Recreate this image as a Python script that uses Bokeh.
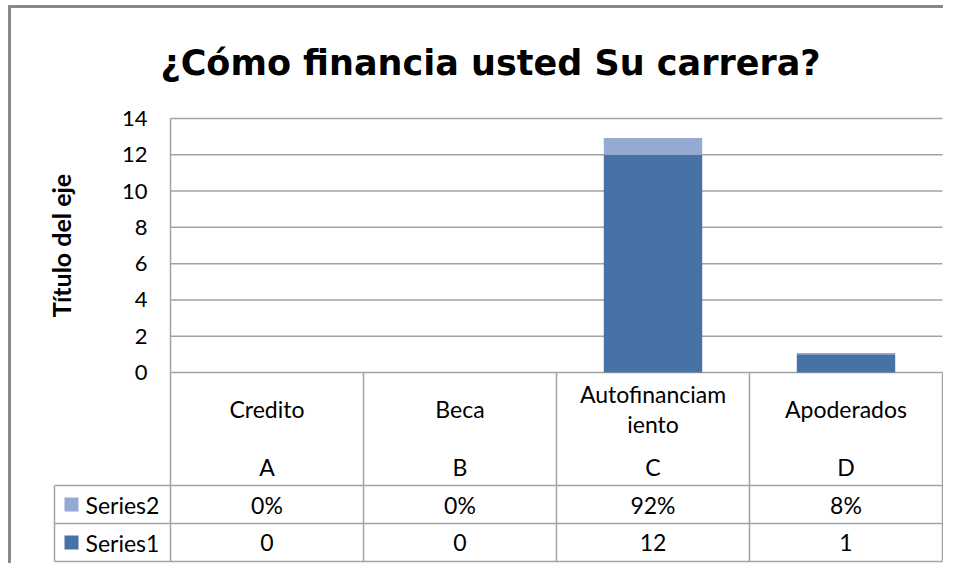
import textwrap
from bokeh.plotting import figure
from bokeh.models import Range1d, FixedTicker, ColumnDataSource
from bokeh.core.properties import value
from bokeh.embed import file_html
from bokeh.resources import INLINE

# ---------------- data ----------------
title_text = "¿Cómo financia usted Su carrera?"
y_axis_title = "Título del eje"
categories = ["Credito", "Beca", "Autofinanciamiento", "Apoderados"]
letters = ["A", "B", "C", "D"]
series1_name = "Series1"
series2_name = "Series2"
series1 = [0, 0, 12, 1]
series2_pct = [0, 0, 92, 8]
y_ticks = [0, 2, 4, 6, 8, 10, 12, 14]

# ---------------- styles / layout ----------------
C1 = "#4672A6"
C2 = "#95AAD2"
GRID = "#a3a3a3"
BORDER = "#898989"
FONT = "Lato"
W, H = 943, 563
X0P, XSTEP = 170, 193.0       # pixel x of category origin, px per category
Y0P, YSTEP = 372, 254 / 14.0  # pixel y of value 0, px per unit


def dx(px):
    return (px - X0P) / XSTEP


def dy(py):
    return (Y0P - py) / YSTEP


n = len(categories)
ymax = max(y_ticks)

p = figure(width=W, height=H, output_backend="svg", toolbar_location=None,
           x_range=Range1d(dx(0), dx(W)),
           y_range=Range1d(dy(H), dy(0)),
           x_axis_type=None, min_border=0, outline_line_color=None,
           background_fill_color="white", border_fill_color="white")
p.grid.visible = False

# y axis drawn at x = 0 (category origin)
ax = p.yaxis[0]
ax.fixed_location = 0
ax.ticker = FixedTicker(ticks=y_ticks)
ax.bounds = (0, ymax)
ax.major_tick_out = 0
ax.major_tick_in = 0
ax.minor_tick_out = 0
ax.minor_tick_in = 0
ax.major_label_standoff = 23
ax.major_label_text_font = FONT
ax.major_label_text_font_size = "22px"
ax.major_label_text_color = "#000000"
ax.axis_line_color = GRID
ax.axis_line_width = 1.5
ax.axis_label = y_axis_title
ax.axis_label_text_font = FONT
ax.axis_label_text_font_style = "bold"
ax.axis_label_text_font_size = "25px"
ax.axis_label_text_color = "#000000"
ax.axis_label_standoff = 43

# outer chart border (left and top visible)
p.segment(x0=[dx(9), dx(8)], y0=[dy(5), dy(6)],
          x1=[dx(9), dx(W)], y1=[dy(H), dy(6)],
          line_color=BORDER, line_width=3)

# horizontal gridlines
p.segment(x0=[0] * len(y_ticks), y0=y_ticks, x1=[n] * len(y_ticks), y1=y_ticks,
          line_color=GRID, line_width=1.5)

# stacked bars
src = ColumnDataSource(dict(x=[i + 0.5 for i in range(n)], s1=series1,
                            s2=[v / 100 for v in series2_pct]))
p.vbar_stack(["s1", "s2"], x="x", width=0.51, color=[C1, C2], line_color=None,
             source=src)

# data table lines
row_lines = [485, 523, 561]
hx0 = dx(54)
p.segment(x0=[hx0] * 3, y0=[dy(r) for r in row_lines], x1=[n] * 3,
          y1=[dy(r) for r in row_lines], line_color=GRID, line_width=1.5)
p.segment(x0=list(range(n + 1)), y0=[0] * (n + 1), x1=list(range(n + 1)),
          y1=[dy(row_lines[-1])] * (n + 1), line_color=GRID, line_width=1.5)
p.segment(x0=[hx0], y0=[dy(row_lines[0])], x1=[hx0], y1=[dy(row_lines[-1])],
          line_color=GRID, line_width=1.5)
row2_c = (row_lines[0] + row_lines[1]) / 2
row1_c = (row_lines[1] + row_lines[2]) / 2

# title
p.text(x=[dx(490)], y=[dy(62)], text=[title_text], text_font=value("DejaVu Sans"),
       text_font_style="bold", text_font_size="35px", text_align="center",
       text_baseline="middle", text_color="#000000")

# table header texts
tx, ty, tt = [], [], []
for i, name in enumerate(categories):
    lines = textwrap.wrap(name, 13)
    k = len(lines)
    for j, ln in enumerate(lines):
        tx.append(i + 0.5)
        ty.append(dy(408 - (k - 1) * 15 + j * 30))
        tt.append(ln)
    tx.append(i + 0.5)
    ty.append(dy(466))
    tt.append(letters[i])
for i in range(n):
    tx.append(i + 0.5)
    ty.append(dy(row2_c))
    tt.append(f"{series2_pct[i]}%")
    tx.append(i + 0.5)
    ty.append(dy(row1_c))
    tt.append(f"{series1[i]}")
p.text(x=tx, y=ty, text=tt, text_font=value(FONT), text_font_size="23px",
       text_align="center", text_baseline="middle", text_color="#000000")

# legend keys in the table
p.scatter(x=[dx(71), dx(71)], y=[dy(row2_c), dy(row1_c)], marker="square", size=14,
          color=[C2, C1], line_color=None)
p.text(x=[dx(85), dx(85)], y=[dy(row2_c), dy(row1_c)], text=[series2_name, series1_name],
       text_font=value(FONT), text_font_size="23px", text_align="left",
       text_baseline="middle", text_color="#000000")

open("out.html", "w").write(file_html(p, INLINE))
